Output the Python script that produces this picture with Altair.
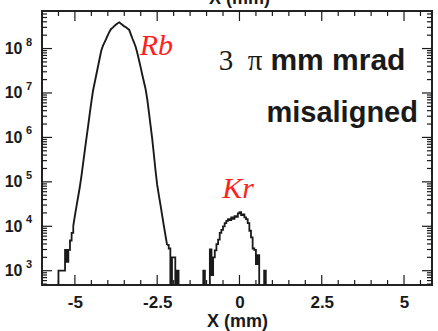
import altair as alt
import pandas as pd

# ---- data (log10 of counts per bin, bin starts in mm) ----
rb_x = [-5.55, -5.50, -5.45, -5.40, -5.35, -5.30, -5.25, -5.20, -5.15, -5.10,
        -5.05, -5.00, -4.95, -4.90, -4.85, -4.80, -4.75, -4.70, -4.65, -4.60,
        -4.55, -4.50, -4.45, -4.40, -4.35, -4.30, -4.25, -4.20, -4.15, -4.10,
        -4.05, -4.00, -3.95, -3.90, -3.85, -3.80, -3.75, -3.70, -3.65, -3.60,
        -3.55, -3.50, -3.45, -3.40, -3.35, -3.30, -3.25, -3.20, -3.15, -3.10,
        -3.05, -3.00, -2.95, -2.90, -2.85, -2.80, -2.75, -2.70, -2.65, -2.60,
        -2.55, -2.50, -2.45, -2.40, -2.35, -2.30, -2.25, -2.20, -2.15, -2.10,
        -2.05, -2.00, -1.95, -1.90, -1.85, -1.80]
rb_log = [2.6, 3.0, 3.0, 3.0, 3.0, 3.47, 3.2, 3.47, 3.68, 3.85,
          4.01, 4.24, 4.46, 4.67, 4.89, 5.14, 5.42, 5.70, 5.98, 6.25,
          6.53, 6.80, 7.05, 7.23, 7.41, 7.59, 7.77, 7.95, 8.06, 8.14,
          8.22, 8.30, 8.38, 8.44, 8.47, 8.51, 8.54, 8.57, 8.59, 8.56,
          8.53, 8.50, 8.48, 8.45, 8.42, 8.32, 8.22, 8.13, 8.03, 7.89,
          7.73, 7.57, 7.40, 7.24, 7.08, 6.85, 6.56, 6.26, 5.96, 5.61,
          5.25, 4.93, 4.70, 4.48, 4.25, 4.02, 3.80, 3.58, 3.50, 2.6,
          3.3, 3.3, 2.6, 3.0, 2.6, 2.6]
# Rb is drawn smooth in its body and as a histogram in its sparse tails
rb_body_from, rb_body_to = -5.05, -2.20

kr_x = [-1.15, -1.10, -1.05, -1.00, -0.95, -0.90, -0.85, -0.80, -0.75, -0.70,
        -0.65, -0.60, -0.55, -0.50, -0.45, -0.40, -0.35, -0.30, -0.25, -0.20,
        -0.15, -0.10, -0.05, 0.00, 0.05, 0.10, 0.15, 0.20, 0.25, 0.30,
        0.35, 0.40, 0.45, 0.50, 0.55, 0.60, 0.65, 0.70, 0.75, 0.80, 0.85]
kr_log = [2.6, 3.0, 2.6, 2.6, 2.6, 3.48, 2.9, 3.3, 3.46, 3.6,
          3.7, 3.85, 3.92, 4.0, 4.07, 4.12, 4.16, 4.14, 4.2, 4.17,
          4.23, 4.21, 4.29, 4.32, 4.25, 4.27, 4.2, 4.16, 4.07, 3.9,
          3.75, 3.5, 3.47, 3.15, 3.35, 2.6, 2.6, 2.6, 3.0, 2.6, 2.6]

x_major = [-5, -2.5, 0, 2.5, 5]
x_minor = [-5.5, -4.5, -4, -3.5, -3, -2, -1.5, -1, -0.5, 0.5, 1, 1.5, 2,
           3, 3.5, 4, 4.5, 5.5]
y_exponents = [3, 4, 5, 6, 7, 8]
y_minor_mult = [2, 3, 4, 5, 6, 7, 8, 9]

# ---- derived tables ----
rb = pd.DataFrame({"x": rb_x, "count": [10 ** v for v in rb_log]})
kr = pd.DataFrame({"x": kr_x, "count": [10 ** v for v in kr_log]})
rb_body = rb[(rb.x >= rb_body_from - 1e-9) & (rb.x <= rb_body_to + 1e-9)]
rb_tl = rb[rb.x <= rb_body_from + 1e-9].assign(seg="tl")
rb_tr = rb[rb.x >= rb_body_to - 1e-9].assign(seg="tr")
steps = pd.concat([rb_tl, rb_tr, kr.assign(seg="kr")], ignore_index=True)

xmaj = pd.DataFrame({"x": x_major})
xmin = pd.DataFrame({"x": x_minor})
ymaj = pd.DataFrame({"count": [10.0 ** e for e in y_exponents],
                     "exp": [str(e) for e in y_exponents]})
ymin_vals = [m * 10.0 ** e for e in [2] + y_exponents for m in y_minor_mult]
ymin = pd.DataFrame({"count": [v for v in ymin_vals if 477 < v < 7e8]})

W, H = 390, 274
FONT = "Liberation Sans"
SERIF = "Liberation Serif"
INK = "#1a1a1a"
RED = "#ff1f1f"

xs = alt.Scale(domain=[-6.0, 5.85], nice=False, zero=False)
ys = alt.Scale(type="log", domain=[477, 7e8], nice=False)

x_lab = "datum.value < 0 ? '-' + format(-datum.value, '') : format(datum.value, '')"

X_AXIS = alt.Axis(
    values=x_major, labelExpr=x_lab, ticks=False, tickSize=0, domain=False,
    grid=False, labelFont=FONT, labelFontSize=17, labelFontWeight="bold",
    labelColor=INK, labelPadding=9, title="X (mm)", titleFont=FONT,
    titleFontSize=18, titleFontWeight="bold", titleColor=INK, titlePadding=2)
Y_AXIS = alt.Axis(
    values=[10.0 ** e for e in y_exponents], labelExpr="'10'", ticks=False,
    tickSize=0, domain=False, grid=False, labelFont=FONT, labelFontSize=16,
    labelFontWeight="bold", labelColor=INK, labelPadding=20, title=None)

def XE():
    return alt.X("x:Q", scale=xs, axis=X_AXIS, title="X (mm)")

def YE():
    return alt.Y("count:Q", scale=ys, axis=Y_AXIS, title=None)

body = alt.Chart(rb_body).mark_line(
    interpolate="linear", clip=True, color=INK, strokeWidth=1.9
).encode(x=XE(), y=YE())

hist = alt.Chart(steps).mark_line(
    interpolate="step-after", clip=True, color=INK, strokeWidth=1.8
).encode(x=XE(), y=YE(), detail="seg:N")

def xrule(df, size, top):
    if top:
        yy, yy2 = alt.value(0), alt.value(size)
    else:
        yy, yy2 = alt.value(H), alt.value(H - size)
    return alt.Chart(df).mark_rule(color=INK, strokeWidth=1.2).encode(
        x=XE(), y=yy, y2=yy2)

def yrule(df, size, right):
    if right:
        xx, xx2 = alt.value(W), alt.value(W - size)
    else:
        xx, xx2 = alt.value(0), alt.value(size)
    return alt.Chart(df).mark_rule(color=INK, strokeWidth=1.2).encode(
        y=YE(), x=xx, x2=xx2)

exps = alt.Chart(ymaj).mark_text(
    font=FONT, fontSize=11, fontWeight="bold", color=INK, align="center",
    baseline="middle", dy=-6
).encode(y=YE(), x=alt.value(-13), text="exp:N")

ann_rb = pd.DataFrame({"x": [-3.03], "count": [10 ** 7.85], "t": ["Rb"]})
ann_kr = pd.DataFrame({"x": [-0.52], "count": [10 ** 4.64], "t": ["Kr"]})
ann_pi = pd.DataFrame({"x": [0.70], "count": [10 ** 7.516], "t": ["3\u2002π"]})
ann_mm = pd.DataFrame({"x": [0.94], "count": [10 ** 7.516], "t": ["mm mrad"]})
ann_mis = pd.DataFrame({"x": [0.82], "count": [10 ** 6.346], "t": ["misaligned"]})

def label(df, **kw):
    return alt.Chart(df).mark_text(baseline="alphabetic", **kw).encode(
        x=XE(), y=YE(), text="t:N")

t_rb = label(ann_rb, font=SERIF, fontSize=30, fontStyle="italic", color=RED, align="left")
t_kr = label(ann_kr, font=SERIF, fontSize=30, fontStyle="italic", color=RED, align="left")
t_pi = label(ann_pi, font=SERIF, fontSize=29, color=INK, align="right")
t_mm = label(ann_mm, font=FONT, fontSize=30, fontWeight="bold", color=INK, align="left")
t_mis = label(ann_mis, font=FONT, fontSize=29, fontWeight="bold", color=INK, align="left")

top_title = alt.Chart(pd.DataFrame({"x": [0.0], "t": ["X (mm)"]})).mark_text(
    font=FONT, fontSize=18, fontWeight="bold", color=INK, align="center",
    baseline="alphabetic"
).encode(x=XE(), y=alt.value(-7), text="t:N")

chart = alt.layer(
    body, hist,
    xrule(xmaj, 10, False), xrule(xmaj, 10, True),
    xrule(xmin, 5, False), xrule(xmin, 5, True),
    yrule(ymaj, 10, False), yrule(ymaj, 10, True),
    yrule(ymin, 5, False), yrule(ymin, 5, True),
    exps, t_rb, t_kr, t_pi, t_mm, t_mis, top_title,
).properties(
    width=W, height=H,
    autosize=alt.AutoSizeParams(type="none"),
    padding={"left": 42, "top": 11, "right": 6, "bottom": 46},
    background="white",
).configure_view(stroke="#222222", strokeWidth=2)

chart.save("out.html", embed_options={"renderer": "svg", "actions": False})
